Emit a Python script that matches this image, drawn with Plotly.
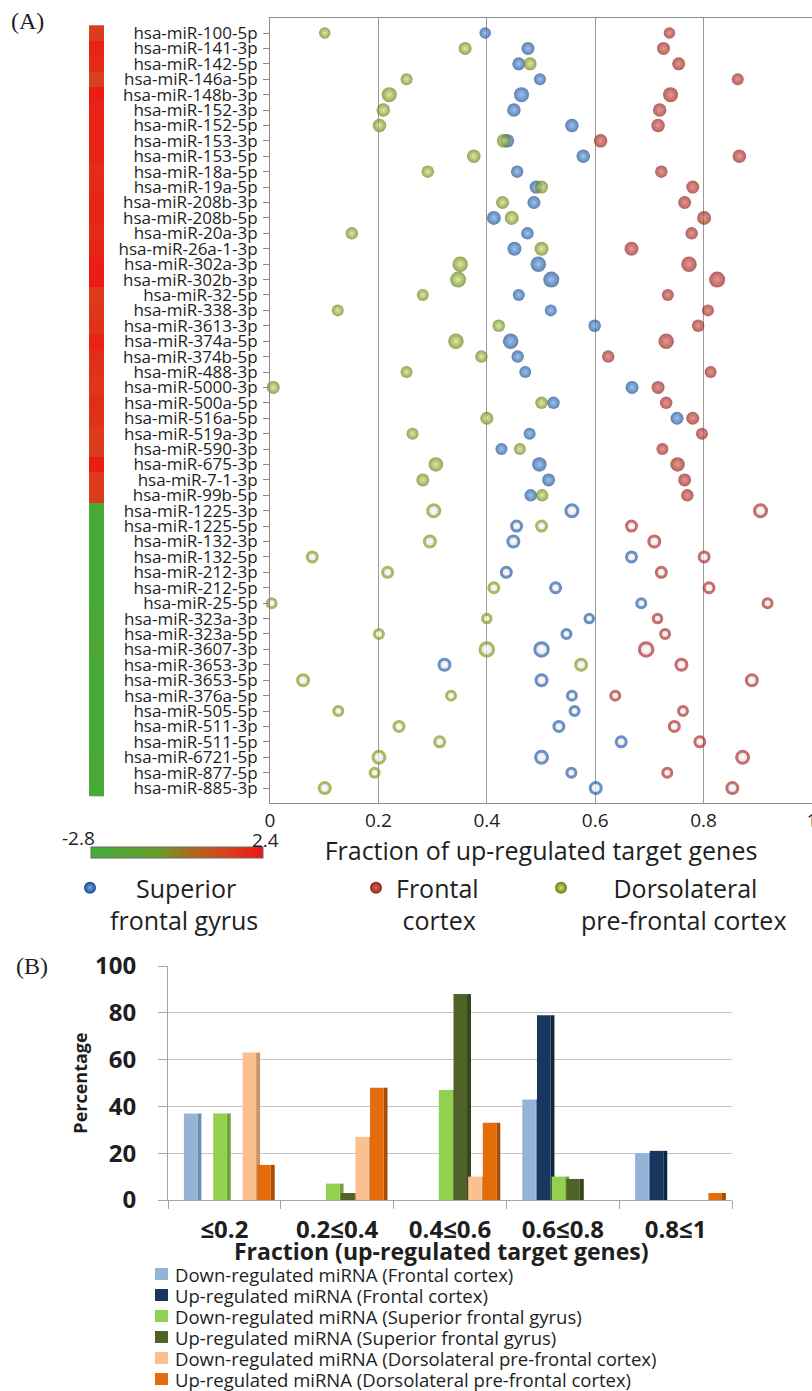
import plotly.graph_objects as go

# ---------------- Panel A data ----------------
up_mirnas = [
    "hsa-miR-100-5p", "hsa-miR-141-3p", "hsa-miR-142-5p", "hsa-miR-146a-5p",
    "hsa-miR-148b-3p", "hsa-miR-152-3p", "hsa-miR-152-5p", "hsa-miR-153-3p",
    "hsa-miR-153-5p", "hsa-miR-18a-5p", "hsa-miR-19a-5p", "hsa-miR-208b-3p",
    "hsa-miR-208b-5p", "hsa-miR-20a-3p", "hsa-miR-26a-1-3p", "hsa-miR-302a-3p",
    "hsa-miR-302b-3p", "hsa-miR-32-5p", "hsa-miR-338-3p", "hsa-miR-3613-3p",
    "hsa-miR-374a-5p", "hsa-miR-374b-5p", "hsa-miR-488-3p", "hsa-miR-5000-3p",
    "hsa-miR-500a-5p", "hsa-miR-516a-5p", "hsa-miR-519a-3p", "hsa-miR-590-3p",
    "hsa-miR-675-3p", "hsa-miR-7-1-3p", "hsa-miR-99b-5p",
]
down_mirnas = [
    "hsa-miR-1225-3p", "hsa-miR-1225-5p", "hsa-miR-132-3p", "hsa-miR-132-5p",
    "hsa-miR-212-3p", "hsa-miR-212-5p", "hsa-miR-25-5p", "hsa-miR-323a-3p",
    "hsa-miR-323a-5p", "hsa-miR-3607-3p", "hsa-miR-3653-3p", "hsa-miR-3653-5p",
    "hsa-miR-376a-5p", "hsa-miR-505-5p", "hsa-miR-511-3p", "hsa-miR-511-5p",
    "hsa-miR-6721-5p", "hsa-miR-877-5p", "hsa-miR-885-3p",
]

# log fold change of each miRNA (colour strip)
up_logfc = [1.4, 2.1, 1.9, 1.3, 2.2, 2.1, 2.0, 2.1, 2.0, 1.8, 1.9, 2.0, 2.0, 1.9,
            2.0, 2.2, 2.2, 1.5, 1.6, 1.7, 2.1, 1.8, 1.7, 1.6, 1.8, 1.7, 1.5, 1.4,
            2.2, 1.5, 1.5]
down_logfc = [-2.4, -2.4, -2.4, -2.4, -2.4, -2.4, -2.4, -2.3, -2.3, -2.0, -2.4,
              -2.4, -2.4, -2.4, -2.4, -2.4, -2.3, -2.3, -2.4]

# fraction of up-regulated target genes per tissue
sfg_up = [0.397, 0.476, 0.459, 0.498, 0.464, 0.450, 0.557, 0.438, 0.578, 0.456,
          0.491, 0.487, 0.413, 0.475, 0.451, 0.495, 0.519, 0.459, 0.518, 0.599,
          0.444, 0.457, 0.471, 0.668, 0.523, 0.751, 0.479, 0.427, 0.497, 0.514,
          0.481]
fc_up = [0.737, 0.726, 0.754, 0.863, 0.739, 0.719, 0.716, 0.610, 0.866, 0.722,
         0.780, 0.765, 0.801, 0.778, 0.667, 0.773, 0.825, 0.734, 0.808, 0.790,
         0.731, 0.624, 0.813, 0.716, 0.731, 0.780, 0.797, 0.724, 0.752, 0.765,
         0.770]
dlpfc_up = [0.101, 0.360, 0.480, 0.252, 0.220, 0.209, 0.202, 0.431, 0.376, 0.291,
            0.501, 0.429, 0.446, 0.151, 0.501, 0.351, 0.347, 0.282, 0.125, 0.422,
            0.343, 0.390, 0.252, 0.006, 0.501, 0.400, 0.263, 0.461, 0.306, 0.282,
            0.502]
sfg_down = [0.557, 0.455, 0.449, 0.667, 0.436, 0.527, 0.685, 0.589, 0.547, 0.501,
            0.322, 0.501, 0.557, 0.562, 0.533, 0.648, 0.501, 0.556, 0.601]
fc_down = [0.905, 0.667, 0.709, 0.801, 0.722, 0.810, 0.918, 0.715, 0.729, 0.694,
           0.759, 0.889, 0.637, 0.762, 0.746, 0.793, 0.872, 0.733, 0.853]
dlpfc_down = [0.302, 0.501, 0.295, 0.078, 0.217, 0.413, 0.003, 0.400, 0.201,
              0.400, 0.574, 0.061, 0.334, 0.126, 0.238, 0.313, 0.201, 0.193,
              0.101]

# ---------------- Panel B data ----------------
fraction_bins = ["≤0.2", "0.2≤0.4", "0.4≤0.6", "0.6≤0.8", "0.8≤1"]
pct_down_fc = [37, 0, 0, 43, 20]
pct_up_fc = [0, 0, 0, 79, 21]
pct_down_sfg = [37, 7, 47, 10, 0]
pct_up_sfg = [0, 3, 88, 9, 0]
pct_down_dlpfc = [63, 27, 10, 0, 0]
pct_up_dlpfc = [15, 48, 33, 0, 3]

# ---------------- styling ----------------
W, H = 812, 1391
FONT = "Open Sans, Noto Sans, sans-serif"
TXT = "#1e1e1e"

# bubble diameters (px) for each miRNA row
up_marker_px = [11.5, 13, 13, 12, 15, 13.5, 13.5, 13.5, 13.5, 12.5, 13, 13, 14, 12.5,
                14, 15.5, 16, 12, 12, 12.5, 15.5, 12.5, 12, 13, 12.5, 13, 12, 12,
                14.5, 13, 12.5]
down_marker_px = [15, 13, 14, 13, 13, 13, 12, 11.5, 12, 16.5, 14, 14, 12, 12, 13, 13,
                  15, 12, 14]

tissues = {
    "sfg": dict(name="Superior frontal gyrus", edge="#174a8c", light="#6fa9ea",
                ring="#2a62ae"),
    "fc": dict(name="Frontal cortex", edge="#8e1f1c", light="#e2675f",
               ring="#b0302e"),
    "dlpfc": dict(name="Dorsolateral pre-frontal cortex", edge="#637d14",
                  light="#cfe273", ring="#869c22"),
}

def px_x(p):
    return p / W

def px_y(p):
    return 1 - p / H

all_mirnas = up_mirnas + down_mirnas
row0, row_step = 33.0, 15.41
a_top, a_bottom = 18.0, 803.0
a_range = [(a_bottom - row0) / row_step, (a_top - row0) / row_step]

fig = go.Figure()

# colour strip of log fold change beside the labels
strip_scale = [[0.0, "#3fae3a"], [0.4, "#6c9a2a"], [0.62, "#b4621c"],
               [0.8, "#d8401c"], [1.0, "#f01414"]]
fig.add_trace(go.Heatmap(
    x=[0], y=all_mirnas, z=[[v] for v in up_logfc + down_logfc],
    xaxis="x2", yaxis="y", colorscale=strip_scale, zmin=-2.8, zmax=2.4,
    hoverinfo="skip",
    colorbar=dict(orientation="h", x=px_x(177), xanchor="center",
                  y=px_y(852.5), yanchor="middle", len=172, lenmode="pixels",
                  thickness=11, thicknessmode="pixels", showticklabels=False,
                  ticks="", outlinewidth=1, outlinecolor="#6a6a6a",
                  xpad=0, ypad=0),
))

series = [("sfg", sfg_up, sfg_down), ("fc", fc_up, fc_down),
          ("dlpfc", dlpfc_up, dlpfc_down)]

# up-regulated miRNAs: shaded spheres
for key, vals_up, _ in series:
    t = tissues[key]
    fig.add_trace(go.Scatter(
        x=vals_up, y=up_mirnas, mode="markers", showlegend=False,
        cliponaxis=False, name=t["name"],
        marker=dict(size=up_marker_px, color=t["edge"],
                    gradient=dict(type="radial", color=t["light"]),
                    line=dict(width=0)),
    ))
# down-regulated miRNAs: rings
for key, _, vals_down in series:
    t = tissues[key]
    fig.add_trace(go.Scatter(
        x=vals_down, y=down_mirnas, mode="markers", showlegend=False,
        cliponaxis=False, name=t["name"],
        marker=dict(size=[s - 3 for s in down_marker_px], color="#cfcfcf",
                    gradient=dict(type="radial", color="#ffffff"),
                    line=dict(width=3, color=t["ring"])),
    ))

# legend entries for the three tissues
NB = "\u00a0"
legend_items = [
    ("sfg", NB * 4 + "Superior<br>frontal gyrus", "legend", 90),
    ("fc", "Frontal<br>" + NB + "cortex", "legend2", 376),
    ("dlpfc", NB * 5 + "Dorsolateral<br>pre-frontal cortex", "legend3", 561),
]
legend_layout = {}
for key, label, lg, sx in legend_items:
    t = tissues[key]
    fig.add_trace(go.Scatter(
        x=[None], y=[None], mode="markers", name=label, legend=lg,
        marker=dict(size=12, color=t["edge"],
                    gradient=dict(type="radial", color=t["light"])),
    ))
    legend_layout[lg] = dict(
        x=px_x(sx - 20), xanchor="left", y=px_y(865), yanchor="top",
        valign="top", bgcolor="rgba(0,0,0,0)", borderwidth=0,
        font=dict(family=FONT, size=25, color=TXT), itemclick=False,
    )

# ---------------- Panel B: pseudo-3D grouped bars ----------------
bar_series = [
    ("Down-regulated miRNA (Frontal cortex)", pct_down_fc, "#95b3d7", "#6f8db3"),
    ("Up-regulated miRNA (Frontal cortex)", pct_up_fc, "#17375e", "#0e2540"),
    ("Down-regulated miRNA (Superior frontal gyrus)", pct_down_sfg, "#92d050", "#6ea334"),
    ("Up-regulated miRNA (Superior frontal gyrus)", pct_up_sfg, "#4f6228", "#364519"),
    ("Down-regulated miRNA (Dorsolateral pre-frontal cortex)", pct_down_dlpfc, "#fac090", "#c9946a"),
    ("Up-regulated miRNA (Dorsolateral pre-frontal cortex)", pct_up_dlpfc, "#e46c0a", "#a94d05"),
]
slot, front_w, side_w, start = 0.13, 0.12, 0.035, -0.359
# side faces first so the next bar's front face covers them
for k, (name, vals, col, dark) in enumerate(bar_series):
    fig.add_trace(go.Bar(
        x=fraction_bins, y=vals, xaxis="x3", yaxis="y3", showlegend=False,
        offset=start + slot * k + front_w, width=side_w,
        marker=dict(color=dark, line=dict(width=0)), hoverinfo="skip",
    ))
for k, (name, vals, col, dark) in enumerate(bar_series):
    fig.add_trace(go.Bar(
        x=fraction_bins, y=vals, xaxis="x3", yaxis="y3", showlegend=False,
        name=name, offset=start + slot * k, width=front_w,
        marker=dict(color=col, line=dict(width=0)),
    ))

# legend of panel B: swatches and labels
annotations = []
shapes = []
leg_rows = [1274, 1295, 1316, 1337, 1358, 1379]
for (name, vals, col, dark), yy in zip(bar_series, leg_rows):
    shapes.append(dict(type="rect", xref="paper", yref="paper",
                       x0=px_x(155), x1=px_x(168), y0=px_y(yy + 6), y1=px_y(yy - 6),
                       fillcolor=col, line=dict(width=0)))
    annotations.append(dict(text=name, xref="paper", yref="paper",
                            x=px_x(173), y=px_y(yy), xanchor="left",
                            yanchor="middle", showarrow=False,
                            font=dict(family=FONT, size=18.5, color=TXT)))

annotations += [
    dict(text="(A)", xref="paper", yref="paper", x=px_x(9), y=px_y(21),
         xanchor="left", yanchor="middle", showarrow=False,
         font=dict(family="Liberation Serif, DejaVu Serif, serif", size=24, color=TXT)),
    dict(text="(B)", xref="paper", yref="paper", x=px_x(14), y=px_y(966),
         xanchor="left", yanchor="middle", showarrow=False,
         font=dict(family="Liberation Serif, DejaVu Serif, serif", size=24, color=TXT)),
    dict(text="-2.8", xref="paper", yref="paper", x=px_x(78), y=px_y(838),
         xanchor="center", yanchor="middle", showarrow=False,
         font=dict(family=FONT, size=19, color=TXT)),
    dict(text="2.4", xref="paper", yref="paper", x=px_x(265), y=px_y(840),
         xanchor="center", yanchor="middle", showarrow=False,
         font=dict(family=FONT, size=19, color=TXT)),
    # x-axis title of panel B
    dict(text="Fraction (up-regulated target genes)", xref="paper", yref="paper",
         x=px_x(442), y=px_y(1251), xanchor="center", yanchor="middle",
         showarrow=False,
         font=dict(family=FONT, size=23, color=TXT, weight="bold")),
]

fig.update_layout(
    width=W, height=H,
    margin=dict(l=0, r=0, t=0, b=0, pad=0, autoexpand=False),
    paper_bgcolor="white", plot_bgcolor="white", barmode="overlay",
    font=dict(family=FONT, color=TXT),
    xaxis=dict(domain=[px_x(270), 1.0], range=[0, 1], anchor="y",
               tickvals=[0, 0.2, 0.4, 0.6, 0.8, 1],
               ticktext=["0", "0.2", "0.4", "0.6", "0.8", "1"],
               showgrid=True, gridcolor="#9a9a9a", gridwidth=1, zeroline=False,
               showline=True, linecolor="#8c8c8c", linewidth=1, mirror=True,
               ticks="", tickfont=dict(family=FONT, size=19, color=TXT),
               ticklabeloverflow="allow",
               title=dict(text="Fraction of up-regulated target genes",
                          font=dict(family=FONT, size=25, color=TXT), standoff=2)),
    yaxis=dict(domain=[px_y(a_bottom), px_y(a_top)], anchor="x",
               type="category", categoryorder="array", categoryarray=all_mirnas,
               tickmode="linear", tick0=0, dtick=1,
               range=a_range, showgrid=False, zeroline=False,
               showline=True, linecolor="#8c8c8c", linewidth=1,
               ticks="outside", ticklen=6, tickcolor="#8c8c8c",
               ticklabelstandoff=2,
               tickfont=dict(family=FONT, size=17, color=TXT)),
    xaxis2=dict(domain=[px_x(89), px_x(104)], anchor="y", visible=False,
                range=[-0.5, 0.5]),
    xaxis3=dict(domain=[px_x(168), px_x(732)], anchor="y3", type="category",
                showline=True, linecolor="#a6a6a6", ticks="outside",
                tickson="boundaries", ticklen=8, tickcolor="#a6a6a6",
                showgrid=False, ticklabelstandoff=8,
                tickfont=dict(family=FONT, size=24, color=TXT, weight="bold")),
    yaxis3=dict(domain=[px_y(1200), px_y(966)], anchor="x3", range=[0, 100],
                dtick=20, showgrid=True, gridcolor="#c4c4c4", zeroline=False,
                showline=True, linecolor="#a6a6a6", ticks="outside", ticklen=9,
                tickcolor="#a6a6a6", ticklabelstandoff=17,
                tickfont=dict(family=FONT, size=24, color=TXT, weight="bold"),
                title=dict(text="Percentage",
                           font=dict(family=FONT, size=18, color=TXT, weight="bold"),
                           standoff=2)),
    annotations=annotations, shapes=shapes,
    **legend_layout,
)

fig.write_html("out.html")
